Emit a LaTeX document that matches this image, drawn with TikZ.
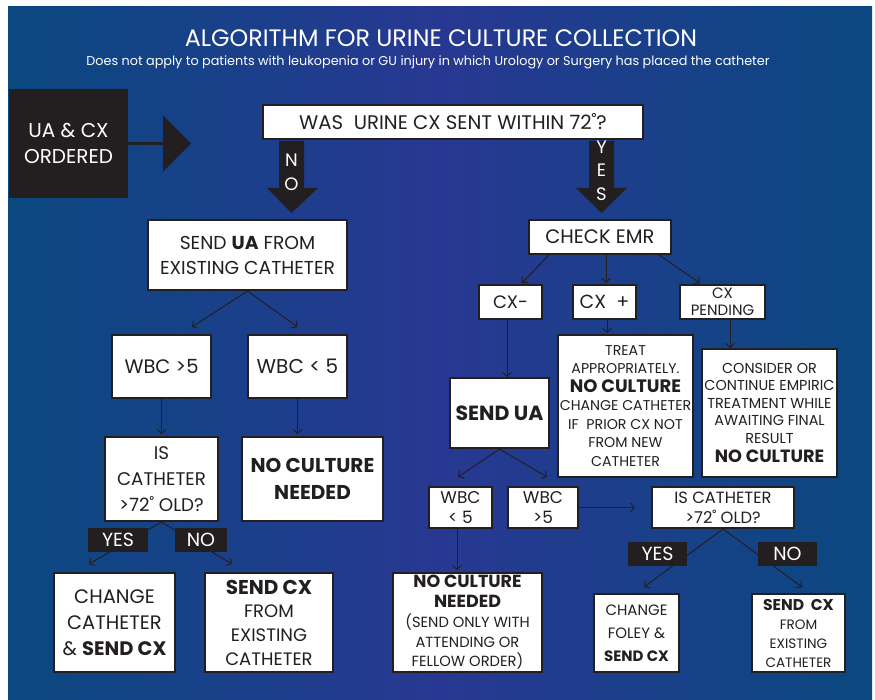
\documentclass[tikz,border=0pt]{standalone}
\usepackage{fontspec}
\setmainfont{Poppins}
\usetikzlibrary{arrows.meta,calc}
\definecolor{bgedge}{RGB}{10,72,128}
\definecolor{bgmid}{RGB}{40,56,146}
\definecolor{ink}{RGB}{35,31,32}
\newcommand{\fsz}[2]{\fontsize{#1}{#2}\selectfont}
\tikzset{
  box/.style={draw=ink, line width=2pt, fill=white, text=ink, inner sep=0pt, align=center},
  darkbox/.style={fill=ink, text=white, inner sep=0pt, align=center},
  lab/.style={fill=ink, text=white, inner sep=0pt, minimum height=24pt, font=\fsz{19}{20}},
  conn/.style={draw=ink, line width=1pt, -{Straight Barb[length=4pt,width=9pt]}},
  blockarrow/.style={fill=ink},
  arrowletter/.style={text=white, font=\fsz{18}{20}, inner sep=0pt}
}
\begin{document}
\begin{tikzpicture}[x=1pt,y=-1pt]
\useasboundingbox (0,0) rectangle (875,700);
\fill[white] (0,0) rectangle (875,700);
\shade[left color=bgedge, right color=bgedge, middle color=bgmid] (8,7) rectangle (872,700);

% titles
\node[text=white, font=\fsz{23.8}{26}] (title) at (441,38) {ALGORITHM FOR URINE CULTURE COLLECTION};
\node[text=white, font=\fsz{12.8}{14}] (subtitle) at (428,62) {Does not apply to patients with leukopenia or GU injury in which Urology or Surgery has placed the catheter};

% start
\node[darkbox, minimum width=119pt, minimum height=109pt, font=\fsz{20}{26}] (uacx) at (68.5,143.5) {UA \& CX\\ORDERED};
\draw[ink, line width=3pt, -{Triangle[length=28pt,width=55pt]}] (uacx.east) -- ++(63,0);

% question
\node[box, minimum width=380pt, minimum height=34pt, font=\fsz{19.7}{20}] (q) at (453,122) {WAS\ \ URINE CX SENT WITHIN 72˚?};

% block arrows
\fill[blockarrow] (279,141) -- (304,141) -- (304,188) -- (318,188) -- (291.5,213) -- (267,188) -- (279,188) -- cycle;
\fill[blockarrow] (589,141) -- (614,141) -- (614,188) -- (627,188) -- (601.5,213) -- (576,188) -- (589,188) -- cycle;
\node[arrowletter] (n1) at (291.5,160) {N};
\node[arrowletter] (n2) at (291.5,184) {O};
\node[arrowletter] (y1) at (601.5,147) {Y};
\node[arrowletter] (y2) at (601.5,170) {E};
\node[arrowletter] (y3) at (601.5,194) {S};

% left branch
\node[box, minimum width=199pt, minimum height=70pt, font=\fsz{18.7}{25}] (sendua) at (247.5,255) {SEND \textbf{UA} FROM\\EXISTING CATHETER};
\node[box, minimum width=99pt, minimum height=63pt, font=\fsz{19.5}{25}] (wbcgt) at (161.5,366.5) {WBC >5};
\node[box, minimum width=99pt, minimum height=63pt, font=\fsz{20}{25}] (wbclt) at (297.5,366.5) {WBC < 5};
\node[box, minimum width=113pt, minimum height=84pt, font=\fsz{18.3}{26}] (iscath) at (161.5,479) {IS\\CATHETER\\>72˚ OLD?};
\node[box, minimum width=141pt, minimum height=84pt, font=\fsz{20}{27}\bfseries] (nocult1) at (312.5,479) {NO CULTURE\\NEEDED};
\node[box, minimum width=121pt, minimum height=99pt, font=\fsz{19.5}{26}] (change1) at (114.5,622.5) {CHANGE\\CATHETER\\\& \textbf{SEND CX}};
\node[box, minimum width=128pt, minimum height=99pt, font=\fsz{18}{23.7}] (sendcx1) at (269,622.5) {{\fsz{20}{23.7}\bfseries SEND CX}\\FROM\\EXISTING\\CATHETER};

\draw[conn] (sendua.south) -- ($(wbcgt.north)+(30.5,-7)$);
\draw[conn] (sendua.south) -- ($(wbclt.north)+(0,-7)$);
\draw[conn, shorten >=2pt] (wbcgt.south) -- (iscath.north);
\draw[conn, shorten >=2pt] (wbclt.south) -- (wbclt.south |- nocult1.north);
\draw[conn] (iscath.south) -- ($(change1.north)+(-25.5,-8)$);
\draw[conn] (iscath.south) -- ($(sendcx1.north)+(-37,-8)$);
\node[lab, minimum width=60pt] (yes1) at (118,540) {YES};
\node[lab, minimum width=52pt] (no1) at (201,540) {NO};

% right branch
\node[box, minimum width=142pt, minimum height=34pt, font=\fsz{19.5}{22}] (checkemr) at (600,237) {CHECK EMR};
\node[box, minimum width=63pt, minimum height=34pt, font=\fsz{18}{22}] (cxneg) at (510.5,302) {CX-};
\node[box, minimum width=63pt, minimum height=34pt, font=\fsz{19}{22}] (cxpos) at (604.5,302) {CX\ \ +};
\node[box, minimum width=85pt, minimum height=34pt, font=\fsz{15}{17}] (cxpend) at (722.5,302) {CX\\PENDING};
\node[box, minimum width=99pt, minimum height=70pt, font=\fsz{20.5}{22}\bfseries] (sendua2) at (499.5,413) {SEND UA};
\node[box, minimum width=135pt, minimum height=142pt, font=\fsz{14.2}{18.5}] (treat) at (625.5,406) {TREAT\\APPROPRIATELY.\\{\fsz{18}{18.5}\bfseries NO CULTURE}\\CHANGE CATHETER\\IF\ \ PRIOR CX NOT\\FROM NEW\\CATHETER};
\node[box, minimum width=135pt, minimum height=128pt, font=\fsz{14.4}{17.5}] (consider) at (769.5,413) {CONSIDER OR\\CONTINUE EMPIRIC\\TREATMENT\ WHILE\\AWAITING FINAL\\RESULT\\[2pt]{\fsz{17.7}{20}\bfseries NO CULTURE}};
\node[box, minimum width=63pt, minimum height=41pt, font=\fsz{17}{20}] (wbclt2) at (460.5,507.5) {WBC\\< 5};
\node[box, minimum width=70pt, minimum height=41pt, font=\fsz{17}{20}] (wbcgt2) at (543,507.5) {WBC\\>5};
\node[box, minimum width=142pt, minimum height=41pt, font=\fsz{16.3}{20}] (iscath2) at (723,507.5) {IS CATHETER\\>72˚ OLD?};
\node[box, minimum width=149pt, minimum height=99pt, font=\fsz{14.7}{19.8}] (nocult2) at (467.5,622.5) {{\fsz{17.5}{19.8}\bfseries NO CULTURE}\\{\fsz{17.5}{19.8}\bfseries NEEDED}\\(SEND ONLY WITH\\ATTENDING OR\\FELLOW ORDER)};
\node[box, minimum width=85pt, minimum height=78pt, font=\fsz{15}{23}] (change2) at (636.5,633) {CHANGE\\FOLEY \&\\\textbf{SEND CX}};
\node[box, minimum width=93pt, minimum height=78pt, font=\fsz{13.6}{19}] (sendcx2) at (798.5,633) {{\fsz{15.6}{19}\bfseries SEND\ \ CX}\\FROM\\EXISTING\\CATHETER};

\draw[conn] ($(checkemr.south)+(-51,0)$) -- ($(cxneg.north)+(11.5,-1)$);
\draw[conn] ($(checkemr.south)+(6,0)$) -- ($(cxpos.north)+(1.5,-1)$);
\draw[conn] ($(checkemr.south)+(59,0)$) -- ($(cxpend.north)+(-22.5,-1)$);
\draw[conn] ($(cxneg.south)+(-3.5,0)$) -- ($(sendua2.north)+(7.5,0)$);
\draw[conn] ($(cxpos.south)+(2.5,0)$) -- ($(treat.north)+(-18.5,-1)$);
\draw[conn] ($(cxpend.south)+(7.5,0)$) -- ($(consider.north)+(-39.5,0)$);
\draw[conn] (sendua2.south) -- ($(wbclt2.north)+(-2.5,-9)$);
\draw[conn] (sendua2.south) -- ($(wbcgt2.north)+(4,-9)$);
\draw[conn, shorten >=16pt] (wbcgt2.east) -- (iscath2.west);
\draw[conn] ($(wbclt2.south)+(-3.5,0)$) -- ($(nocult2.north)+(-10.5,-2)$);
\draw[conn] (iscath2.south) -- ($(change2.north)+(7.5,-6)$);
\draw[conn] (iscath2.south) -- ($(sendcx2.north)+(3.5,-6)$);
\node[lab, minimum width=59pt] (yes2) at (657.5,554) {YES};
\node[lab, minimum width=59pt] (no2) at (787.5,554) {NO};
\end{tikzpicture}
\end{document}
